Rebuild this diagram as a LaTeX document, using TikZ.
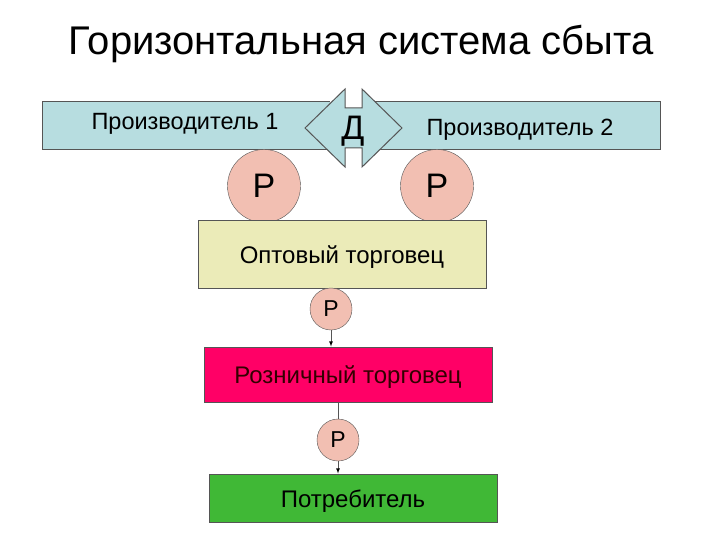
\documentclass[tikz,border=0pt]{standalone}
\usepackage{fontspec}
\setmainfont{Liberation Sans}
\usetikzlibrary{arrows}
\usetikzlibrary{positioning,shapes,fit}
\usepackage{xcolor}

\definecolor{barblue}{HTML}{B7DDE0}
\definecolor{rpink}{HTML}{F2BFB2}
\definecolor{optyel}{HTML}{EBEBB8}
\definecolor{roznred}{HTML}{FF0066}
\definecolor{potrgreen}{HTML}{40B836}
\definecolor{edgegray}{HTML}{555555}

\newcommand{\fsz}[1]{\fontsize{#1}{#1}\selectfont}

\begin{document}
\begin{tikzpicture}[%
        x=1pt, y=-1pt,
        every node/.style={inner sep=0pt},
        box/.style={draw=edgegray, line width=1pt, minimum height=#1},
        boxtext/.style={yshift=-3pt},
        rbig/.style={circle, draw=edgegray, fill=rpink, minimum size=73pt, font=\fsz{34}},
        rsmall/.style={circle, draw=edgegray, fill=rpink, minimum size=42pt, font=\fsz{23}},
        link/.style={draw=edgegray, line width=0.8pt},
        >=latex
      ]
      \useasboundingbox (0,0) rectangle (720,540);
      \node (title) at (361,44) {\fsz{40}Горизонтальная система сбыта};
      % producers bar and the double arrow
      \draw [edgegray, fill=barblue, line width=1pt] (330,102) -- (42,102) -- (42,150) -- (330,150);
      \draw [edgegray, fill=barblue, line width=1pt] (375,102) -- (660,102) -- (660,150) -- (375,150);
      \draw [edgegray, fill=barblue, line width=1pt, line join=miter]
        (305,128) -- (345,89) -- (345,108) -- (362,108) -- (362,89) -- (402,128)
        -- (362,167) -- (362,148) -- (345,148) -- (345,167) -- cycle;
      \node (d) at (353,131) {\fsz{34}Д};
      \node (prod1) at (185,124) {\fsz{23.5}Производитель 1};
      \node (prod2) at (520,130) {\fsz{23.5}Производитель 2};
      \node [rbig] (r1) at (264,186) {Р};
      \node [rbig] (r2) at (437,186) {Р};
      % chain
      \node [box=67pt, minimum width=288pt, fill=optyel] (opt) at (342,254.5) {};
      \node [boxtext] at (opt) {\fsz{24}Оптовый торговец};
      \node [rsmall] (r3) at (331,309) {Р};
      \node [box=55pt, minimum width=288pt, fill=roznred] (rozn) at (348,374.5) {};
      \node [boxtext, text=black!80!red] at (rozn) {\fsz{24}Розничный торговец};
      \node [rsmall] (r4) at (338,440) {Р};
      \node [box=48pt, minimum width=288pt, fill=potrgreen] (potr) at (353,498) {};
      \node [boxtext] at (potr) {\fsz{24}Потребитель};
      \path [link] (r3) edge[->] (r3 |- rozn.north)
      (rozn.south -| r4) edge (r4)
      (r4) edge[->] (r4 |- potr.north);
    \end{tikzpicture}
\end{document}
